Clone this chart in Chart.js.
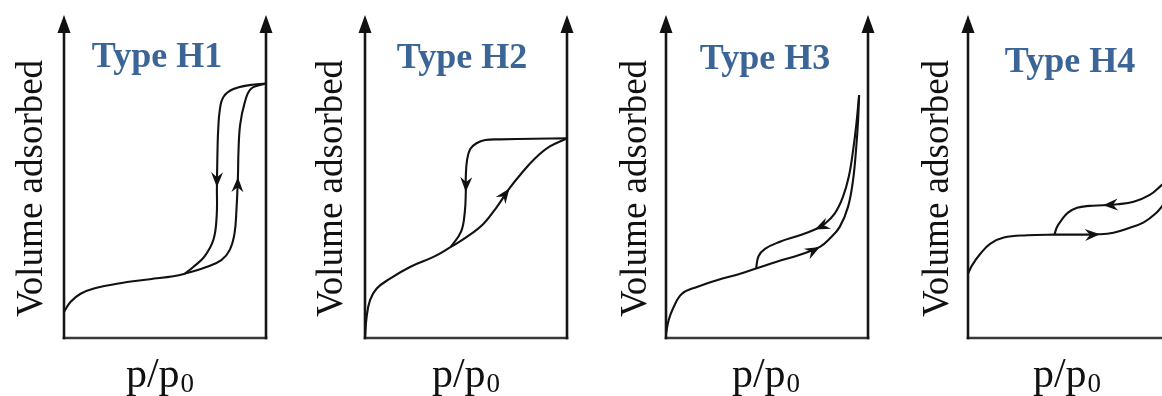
<!DOCTYPE html>
<html>
<head>
<meta charset="utf-8">
<script src="https://cdn.jsdelivr.net/npm/chart.js@4.4.1/dist/chart.umd.min.js"></script>
<style>
  html, body { margin: 0; padding: 0; background: #fff; overflow: hidden; }
  #wrap { position: relative; width: 1162px; height: 396px; overflow: hidden; background: #fff; }
  #wrap canvas { position: absolute; top: 0; }
</style>
</head>
<body>
<div id="wrap">
  <canvas id="h1" width="290" height="396"></canvas>
  <canvas id="h2" width="290" height="396"></canvas>
  <canvas id="h3" width="290" height="396"></canvas>
  <canvas id="h4" width="290" height="396"></canvas>
</div>
<script>
// Hysteresis loop shapes, x = relative pressure (0..100 % of p0), y = volume adsorbed (arbitrary units)
const panelTitles = ['Type H1', 'Type H2', 'Type H3', 'Type H4'];
const yAxisTitle = 'Volume adsorbed';
const xAxisTitle = 'p/p';
const xAxisSub = '0';

// Type H1
const h1Adsorption = [
  {x:0,y:8.1},{x:3.3,y:11.2},{x:8.2,y:13.7},{x:14.8,y:15.3},{x:26.2,y:16.8},{x:42.6,y:18.2},
  {x:54.1,y:19.1},{x:59.8,y:19.9},{x:70.5,y:22},{x:77.9,y:24.1},{x:82,y:27.2},{x:84.4,y:32.3},
  {x:85.4,y:40},{x:86.1,y:49.8},{x:86.4,y:58.2},{x:87.2,y:66},{x:89.3,y:72.5},{x:92.6,y:77.2},{x:100,y:78.8}
];
const h1Desorption = [
  {x:100,y:78.8},{x:91.8,y:78.3},{x:83.6,y:77},{x:79,y:74.7},{x:77.2,y:71},{x:76.3,y:64},
  {x:75.9,y:55},{x:75.7,y:46.7},{x:75.6,y:38},{x:74,y:30.5},{x:69.5,y:25.2},{x:64,y:22},{x:59.8,y:19.9}
];
// Type H2
const h2Adsorption = [
  {x:0,y:0.3},{x:0.8,y:6.5},{x:2.5,y:11.7},{x:5.8,y:15.3},{x:12.4,y:18.4},{x:22.3,y:22},
  {x:33.9,y:25.1},{x:42.5,y:28.2},{x:50.4,y:31.3},{x:58.7,y:35.4},{x:65.3,y:40.6},{x:71.5,y:46.3},
  {x:77.5,y:51},{x:84,y:55.5},{x:91.5,y:59.3},{x:100,y:61.8}
];
const h2Desorption = [
  {x:100,y:61.8},{x:83.5,y:61.7},{x:66.9,y:61.5},{x:59.5,y:61.3},{x:55.2,y:60.3},{x:52.1,y:58.5},
  {x:50.5,y:55},{x:49.9,y:50},{x:49.9,y:45.2},{x:49.4,y:39},{x:47.6,y:33},{x:42.5,y:28.2}
];
// Type H3
const h3Adsorption = [
  {x:0,y:1.3},{x:1.3,y:5.5},{x:3.8,y:9.6},{x:7.9,y:13.7},{x:15.3,y:15.8},{x:25.2,y:17.9},
  {x:36.7,y:19.9},{x:44.6,y:21.5},{x:54.8,y:23.6},{x:66.3,y:25.8},{x:76.2,y:28.2},{x:81.1,y:30.8},
  {x:86,y:34.4},{x:90.1,y:40.6},{x:92.6,y:48.9},{x:94.2,y:59.2},{x:95.1,y:67.5},{x:95.6,y:75.2}
];
const h3Desorption = [
  {x:95.6,y:75.2},{x:94.2,y:66},{x:92.6,y:58},{x:90.5,y:50},{x:87.5,y:43.5},{x:83.5,y:38.5},
  {x:78.5,y:35.3},{x:73.7,y:33.6},{x:66.3,y:31.8},{x:56.4,y:29.8},{x:49,y:27.6},{x:45.8,y:25.3},{x:44.6,y:21.5}
];
// Type H4
const h4Adsorption = [
  {x:0,y:19.9},{x:2,y:22.5},{x:6.1,y:26.1},{x:11.1,y:29.2},{x:17.7,y:31.1},{x:29.3,y:31.8},
  {x:42.8,y:32},{x:54,y:32},{x:65.3,y:32.1},{x:72,y:32.6},{x:79.5,y:34},{x:87,y:35.8},
  {x:93,y:38.6},{x:97,y:41.5},{x:100,y:43.5}
];
const h4Desorption = [
  {x:100,y:49.5},{x:96,y:47.4},{x:90,y:44.3},{x:82,y:42.2},{x:74,y:41.4},{x:66.8,y:41.1},
  {x:60,y:40.9},{x:54,y:40.3},{x:49.5,y:38.8},{x:46.3,y:36.5},{x:44,y:34.3},{x:42.8,y:32}
];

const panels = [
  { id:'h1', axisLeft:64,  ads:h1Adsorption, des:h1Desorption, adsArrow:[13], desArrow:[7],
    titleDx:93,  titleY:67, yLabDx:-22, xLabDx:96 },
  { id:'h2', axisLeft:365, ads:h2Adsorption, des:h2Desorption, adsArrow:[11], desArrow:[8],
    titleDx:97,  titleY:68, yLabDx:-23, xLabDx:101 },
  { id:'h3', axisLeft:666, ads:h3Adsorption, des:h3Desorption, adsArrow:[10], desArrow:[7],
    titleDx:99,  titleY:69, yLabDx:-20, xLabDx:100 },
  { id:'h4', axisLeft:968, ads:h4Adsorption, des:h4Desorption, adsArrow:[8], desArrow:[5],
    titleDx:102, titleY:72, yLabDx:-20, xLabDx:99 }
];

// Draws the axis frame with arrowheads, direction arrows on the curves and the panel texts
const panelDecor = {
  id: 'panelDecor',
  beforeDatasetsDraw(chart) {
    const ctx = chart.ctx;
    const xs = chart.scales.x, ys = chart.scales.y;
    const x0 = xs.getPixelForValue(0), x1 = xs.getPixelForValue(100);
    const y0 = ys.getPixelForValue(0), yTop = ys.getPixelForValue(100);
    const headL = 18, headW = 6.5;
    ctx.save();
    ctx.lineCap = 'butt';
    // bottom axis
    ctx.strokeStyle = '#3a3a3a';
    ctx.lineWidth = 2.6;
    ctx.beginPath();
    ctx.moveTo(x0 - 1.3, y0);
    ctx.lineTo(x1 + 1.3, y0);
    ctx.stroke();
    // vertical axes with arrowheads
    ctx.strokeStyle = '#161616';
    ctx.fillStyle = '#111';
    [x0, x1].forEach(px => {
      ctx.beginPath();
      ctx.moveTo(px, y0 + 1.3);
      ctx.lineTo(px, yTop + headL - 2);
      ctx.stroke();
      ctx.beginPath();
      ctx.moveTo(px, yTop);
      ctx.lineTo(px - headW, yTop + headL);
      ctx.lineTo(px + headW, yTop + headL);
      ctx.closePath();
      ctx.fill();
    });
    ctx.restore();
  },
  afterDatasetsDraw(chart) {
    const ctx = chart.ctx;
    ctx.save();
    ctx.fillStyle = '#111';
    chart.data.datasets.forEach((ds, i) => {
      const meta = chart.getDatasetMeta(i);
      (ds.arrowAt || []).forEach(k => {
        const p = meta.data[k];
        const a = meta.data[k - 1], b = meta.data[k + 1];
        let dx = b.x - a.x, dy = b.y - a.y;
        const len = Math.hypot(dx, dy) || 1;
        dx /= len; dy /= len;
        const L = 15, W = 6, notch = 10;
        const bx = p.x - dx * L, by = p.y - dy * L;
        const nx = -dy, ny = dx;
        ctx.beginPath();
        ctx.moveTo(p.x, p.y);
        ctx.lineTo(bx + nx * W, by + ny * W);
        ctx.lineTo(p.x - dx * notch, p.y - dy * notch);
        ctx.lineTo(bx - nx * W, by - ny * W);
        ctx.closePath();
        ctx.fill();
      });
    });
    ctx.restore();
  },
  afterDraw(chart, args, opts) {
    const ctx = chart.ctx;
    const area = chart.chartArea;
    const left = area.left;
    ctx.save();
    // panel title
    ctx.fillStyle = '#3b6597';
    ctx.font = 'bold 36px "Liberation Serif", "DejaVu Serif", serif';
    ctx.textAlign = 'center';
    ctx.textBaseline = 'alphabetic';
    ctx.fillText(opts.title, left + opts.titleDx, opts.titleY);
    // y axis title
    ctx.fillStyle = '#111';
    ctx.font = '37px "Liberation Serif", "DejaVu Serif", serif';
    ctx.save();
    ctx.translate(left + opts.yLabDx, (area.top + area.bottom) / 2 + 12);
    ctx.rotate(-Math.PI / 2);
    ctx.fillText(yAxisTitle, 0, 0);
    ctx.restore();
    // x axis title with subscript
    ctx.font = '42px "Liberation Serif", "DejaVu Serif", serif';
    const mainW = ctx.measureText(xAxisTitle).width;
    ctx.font = '27px "Liberation Serif", "DejaVu Serif", serif';
    const subW = ctx.measureText(xAxisSub).width;
    const startX = left + opts.xLabDx - (mainW + subW + 1) / 2;
    ctx.textAlign = 'left';
    ctx.font = '42px "Liberation Serif", "DejaVu Serif", serif';
    ctx.fillText(xAxisTitle, startX, 387);
    ctx.font = '27px "Liberation Serif", "DejaVu Serif", serif';
    ctx.fillText(xAxisSub, startX + mainW + 1, 392);
    ctx.restore();
  }
};

panels.forEach(p => {
  const canvas = document.getElementById(p.id);
  canvas.style.left = (p.axisLeft - 64) + 'px';
  new Chart(canvas, {
    type: 'line',
    data: {
      datasets: [
        { label: 'adsorption', data: p.ads, arrowAt: p.adsArrow },
        { label: 'desorption', data: p.des, arrowAt: p.desArrow }
      ]
    },
    options: {
      responsive: false,
      animation: false,
      devicePixelRatio: 1,
      events: [],
      layout: { padding: { left: 64, right: 24, top: 15, bottom: 58 } },
      elements: {
        line: { borderColor: '#111', borderWidth: 2.1, tension: 0.4, fill: false, capBezierPoints: false },
        point: { radius: 0, hoverRadius: 0 }
      },
      scales: {
        x: { type: 'linear', min: 0, max: 100, display: false },
        y: { type: 'linear', min: 0, max: 100, display: false }
      },
      plugins: {
        legend: { display: false },
        tooltip: { enabled: false },
        title: { display: false },
        panelDecor: { title: panelTitles[panels.indexOf(p)], titleDx: p.titleDx, titleY: p.titleY,
                      yLabDx: p.yLabDx, xLabDx: p.xLabDx }
      }
    },
    plugins: [panelDecor]
  });
});
</script>
</body>
</html>
